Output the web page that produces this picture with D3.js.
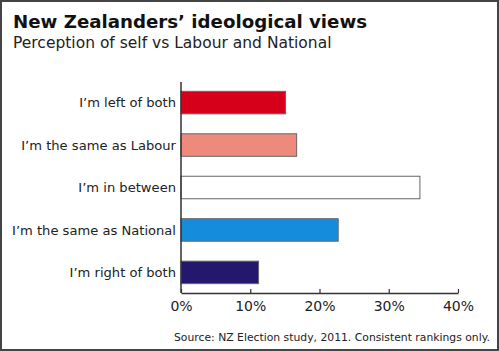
<!DOCTYPE html>
<html><head><meta charset="utf-8">
<script src="https://cdn.jsdelivr.net/npm/d3@7"></script>
<style>html,body{margin:0;padding:0;background:#fff;}svg{display:block;}</style>
</head><body>
<script>
const categories = ["I\u2019m left of both","I\u2019m the same as Labour","I\u2019m in between","I\u2019m the same as National","I\u2019m right of both"];
const values = [15.1, 16.7, 34.5, 22.7, 11.2];
const colors = ["#d6001b","#ee8a7b","#ffffff","#168ddc","#23186e"];
const tickValues = [0, 10, 20, 30, 40];
const title = "New Zealanders\u2019 ideological views";
const subtitle = "Perception of self vs Labour and National";
const source = "Source: NZ Election study, 2011. Consistent rankings only.";

const W = 499, H = 351;
const svg = d3.select("body").append("svg").attr("width", W).attr("height", H);
const font = "'DejaVu Sans', sans-serif";

svg.append("rect").attr("x",1).attr("y",1).attr("width",W-2).attr("height",H-2)
  .attr("fill","#fff").attr("stroke","#444").attr("stroke-width",2);

svg.append("text").attr("x",13).attr("y",28).attr("font-family",font).attr("font-weight","bold")
  .attr("font-size",18.2).attr("fill","#111").text(title);
svg.append("text").attr("x",13).attr("y",48).attr("font-family",font)
  .attr("font-size",15.5).attr("fill","#222").text(subtitle);

const x = d3.scaleLinear().domain([0,40]).range([181,458]);
const y = d3.scaleBand().domain(categories).range([82,293]).paddingInner(0.47).paddingOuter(0.22);

svg.selectAll("rect.bar").data(categories).join("rect").attr("class","bar")
  .attr("x", x(0)).attr("y", d=>y(d)).attr("height", y.bandwidth())
  .attr("width", (d,i)=>x(values[i])-x(0))
  .attr("fill",(d,i)=>colors[i]).attr("stroke","#666").attr("stroke-width",1);

svg.selectAll("text.cat").data(categories).join("text").attr("class","cat")
  .attr("x",176).attr("y",d=>y(d)+y.bandwidth()/2).attr("dy","0.35em")
  .attr("text-anchor","end").attr("font-family",font).attr("font-size",13.1).attr("fill","#222").text(d=>d);

// y axis line
svg.append("line").attr("x1",x(0)).attr("x2",x(0)).attr("y1",82).attr("y2",293)
  .attr("stroke","#333").attr("stroke-width",1.5);

const xAxis = svg.append("g").attr("transform","translate(0,293)")
  .call(d3.axisBottom(x).tickValues(tickValues).tickSizeInner(-4).tickSizeOuter(0).tickPadding(8).tickFormat(d=>d+"%"));
xAxis.select(".domain").attr("stroke","#333").attr("stroke-width",1.5);
xAxis.selectAll(".tick line").attr("stroke","#333").attr("stroke-width",1.2);
xAxis.selectAll(".tick text").attr("font-family",font).attr("font-size",14).attr("fill","#222");

svg.append("text").attr("x",490).attr("y",341).attr("text-anchor","end").attr("font-family",font)
  .attr("font-size",10.8).attr("fill","#222").text(source);
</script>
</body></html>
